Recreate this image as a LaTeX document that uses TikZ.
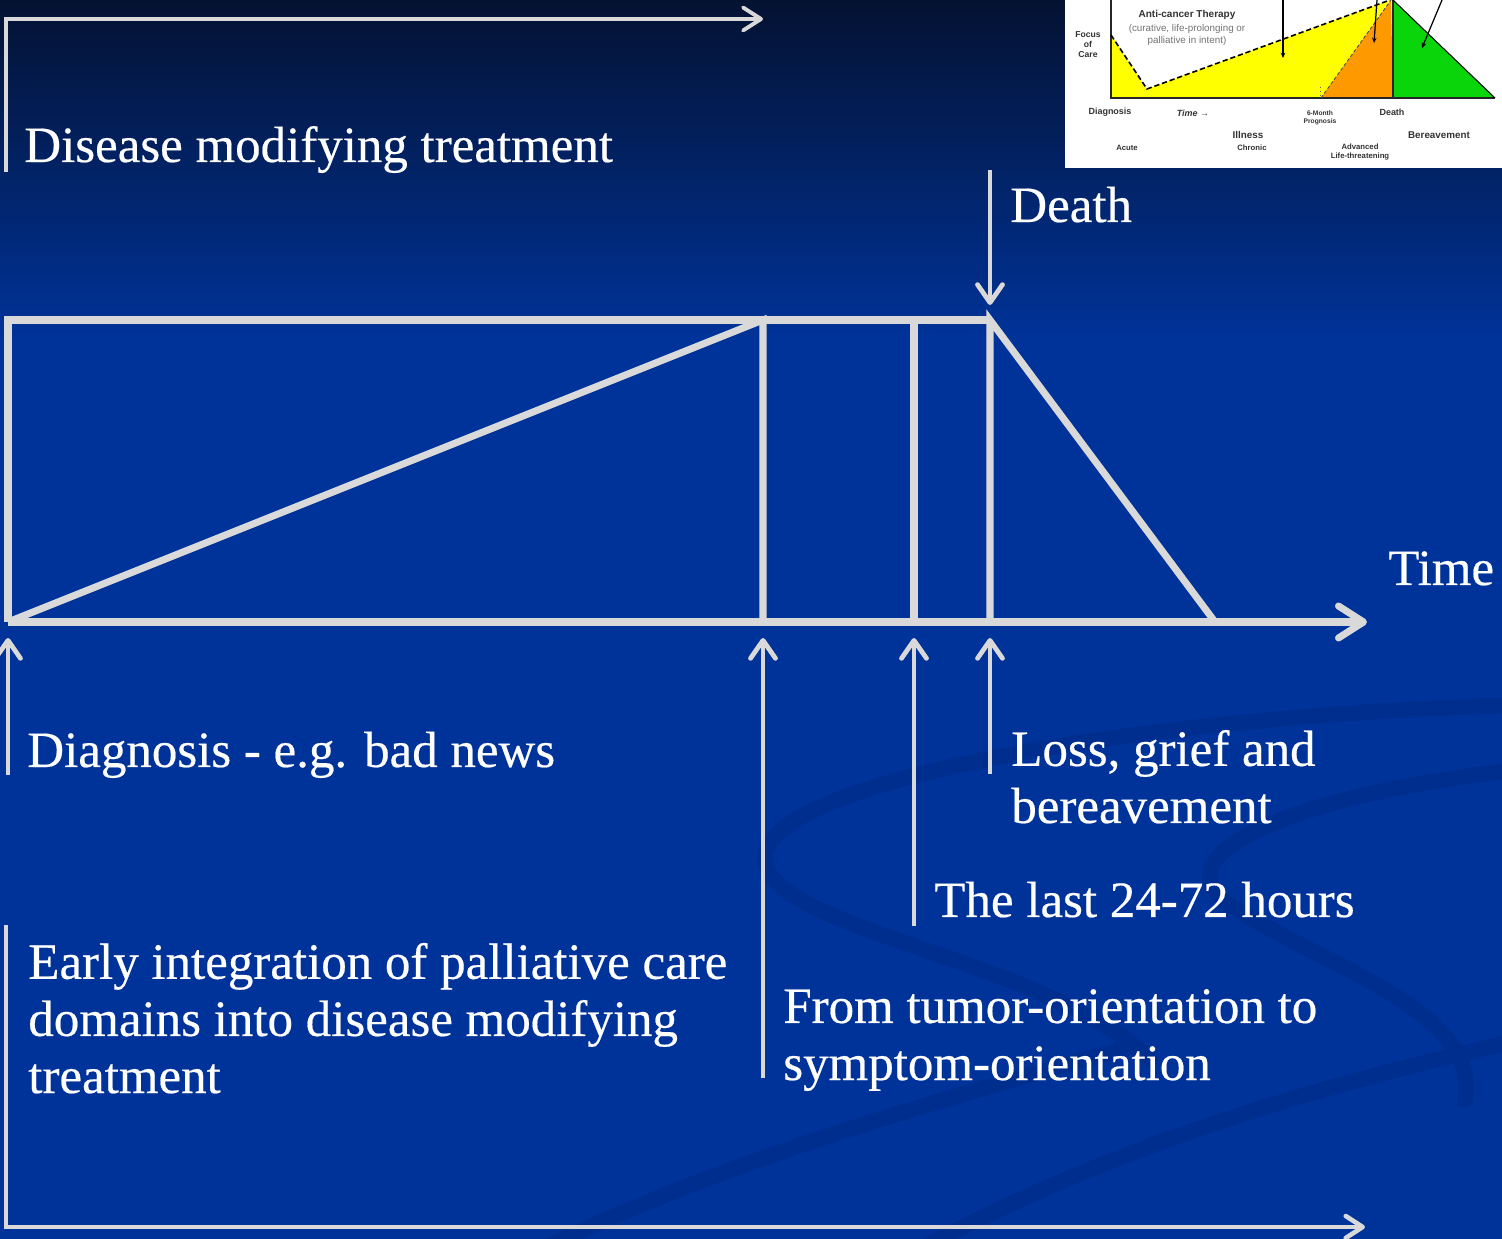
\documentclass[tikz,border=0pt]{standalone}
\usepackage{fontspec}
\setmainfont{Liberation Serif}
\newfontfamily\lblfont[FakeBold=0.4]{Liberation Serif}
\newfontfamily\insetfont{Liberation Sans}
\usetikzlibrary{arrows.meta}
\definecolor{bgtop}{RGB}{4,18,50}
\definecolor{bgblue}{RGB}{0,51,153}
\definecolor{bgswoosh}{RGB}{0,46,143}
\definecolor{linegray}{RGB}{217,217,217}
\definecolor{cyellow}{RGB}{255,255,0}
\definecolor{corange}{RGB}{255,153,0}
\definecolor{cgreen}{RGB}{10,212,10}
\tikzset{
    frame/.style={draw=linegray, line width=4pt, line join=miter},
    marker/.style={draw=linegray, line width=2.7pt, shorten >=0.32cm,
        -{Straight Barb[length=0.36cm,width=0.5cm,round]}},
    lbl/.style={text=white, anchor=base west, inner sep=0pt, align=left,
        font=\lblfont\fontsize{29}{32.5}\selectfont},
    insetlbl/.style={text=black!80, inner sep=0pt, align=center,
        font=\insetfont\bfseries\fontsize{4.4}{5.2}\selectfont},
}
\begin{document}
\begin{tikzpicture}[x=0.02cm, y=-0.02cm]
    \useasboundingbox (0,0) rectangle (1502,1239);
    % background
    \shade[top color=bgtop, bottom color=bgblue] (0,0) rectangle (1502,340);
    \fill[bgblue] (0,339) rectangle (1502,1239);
    \begin{scope}[draw=bgswoosh, line width=9pt, line cap=round]
        \draw (1520,705) .. controls (1150,715) and (760,780) .. (765,860)
            .. controls (770,930) and (1050,960) .. (1150,1060);
        \draw (1520,770) .. controls (1320,790) and (1150,850) .. (1230,905)
            .. controls (1330,970) and (1480,1010) .. (1465,1100);
        \draw (520,1260) .. controls (700,1170) and (900,1110) .. (1120,1050);
        \draw (900,1260) .. controls (1100,1150) and (1300,1090) .. (1520,1040);
    \end{scope}

    % inset: focus of care chart
    \fill[white] (1065,0) rectangle (1502,168);
    \fill[cyellow] (1111,35) -- (1147,89) -- (1390,0) -- (1321,98) -- (1111,98) -- cycle;
    \fill[corange] (1321,98) -- (1391,0) -- (1393,98) -- cycle;
    \fill[cgreen] (1393,0) -- (1495,98) -- (1393,98) -- cycle;
    \draw[black!85, line width=0.8pt] (1111,0) -- (1111,98) -- (1495,98);
    \draw[black!85, line width=0.8pt] (1393,0) -- (1393,98);
    \draw[black, line width=0.6pt] (1393,0) -- (1495,98);
    \draw[black, line width=0.9pt, dash pattern=on 3pt off 1.6pt] (1111,35) -- (1147,89) -- (1390,0);
    \draw[black!70, line width=0.5pt, dash pattern=on 2pt off 1.2pt] (1321,98) -- (1391,0);
    \draw[black!60, line width=0.4pt, dotted] (1320,87) -- (1320,98);
    \draw[black, line width=0.7pt, -{Stealth[length=3pt,width=2.6pt]}] (1283,0) -- (1283,58);
    \draw[black, line width=0.7pt, -{Stealth[length=3pt,width=2.6pt]}] (1377,0) -- (1374,43);
    \draw[black, line width=0.7pt, -{Stealth[length=3pt,width=2.6pt]}] (1442,0) -- (1422,48);
    \node[insetlbl, font=\insetfont\bfseries\fontsize{5.7}{6.5}\selectfont] (acth) at (1187,15) {Anti-cancer Therapy};
    \node[insetlbl, text=black!55, font=\insetfont\fontsize{5.6}{7.2}\selectfont] (acsub) at (1187,35)
        {(curative, life-prolonging or\\palliative in intent)};
    \node[insetlbl, font=\insetfont\bfseries\fontsize{4.9}{5.7}\selectfont] (focus) at (1088,45) {Focus\\of\\Care};
    \node[insetlbl, font=\insetfont\bfseries\fontsize{5.1}{6}\selectfont] (idiag) at (1110,112) {Diagnosis};
    \node[insetlbl, font=\insetfont\bfseries\itshape\fontsize{5.1}{6}\selectfont] (itime) at (1193,113) {Time →};
    \node[insetlbl, font=\insetfont\bfseries\fontsize{3.8}{4.6}\selectfont] (iprog) at (1320,118) {6-Month\\Prognosis};
    \node[insetlbl, font=\insetfont\bfseries\fontsize{5.1}{6}\selectfont] (ideath) at (1392,112) {Death};
    \node[insetlbl, font=\insetfont\bfseries\fontsize{5.6}{6}\selectfont] (iill) at (1248,135) {Illness};
    \node[insetlbl, font=\insetfont\bfseries\fontsize{5.6}{6}\selectfont] (ibereav) at (1439,135) {Bereavement};
    \node[insetlbl] (iacute) at (1127,148) {Acute};
    \node[insetlbl] (ichron) at (1252,148) {Chronic};
    \node[insetlbl] (iadv) at (1360,152) {Advanced\\Life-threatening};

    % time line
    \coordinate (orig) at (8,622);
    \coordinate (topl) at (8,320);
    \coordinate (peak) at (763,320);
    \coordinate (peakb) at (763,622);
    \coordinate (last) at (914,320);
    \coordinate (lastb) at (914,622);
    \coordinate (death) at (990,320);
    \coordinate (deathb) at (990,622);
    \coordinate (grief) at (1215,622);
    \coordinate (tip) at (1367,622);
    \draw[frame] (death) -- (topl) -- (orig);
    \draw[frame] (orig) -- (peak) -- (peakb);
    \draw[frame] (last) -- (lastb);
    \draw[frame] (deathb) -- (death) -- (grief);
    \draw[frame, -{Straight Barb[length=0.5cm,width=0.64cm,round]}] (orig) -- (tip);

    % labels (multi-line ones sit on their last baseline)
    \node[lbl] (dmt) at (24,162) {Disease modifying treatment};
    \node[lbl] (deathlbl) at (1010,222) {Death};
    \node[lbl] (time) at (1388,585) {Time};
    \node[lbl] (diag) at (27,767) {Diagnosis - e.g. bad news};
    \node[lbl] (loss) at (1011,823) {Loss, grief and\\bereavement};
    \node[lbl] (hours) at (934,917) {The last 24-72 hours};
    \node[lbl] (tumor) at (783,1080) {From tumor-orientation to\\symptom-orientation};
    \node[lbl] (early) at (28,1093) {Early integration of palliative care\\domains into disease modifying\\treatment};

    % arrows
    \coordinate (dmt0) at (6,172);
    \coordinate (dmt1) at (6,19);
    \coordinate (dmt2) at (763,19);
    \draw[draw=linegray, line width=2.2pt, -{Straight Barb[length=0.36cm,width=0.46cm,round]}]
        (dmt0) -- (dmt1) -- (dmt2);
    \coordinate (deathtop) at (990,170);
    \draw[marker, shorten >=0.3cm] (deathtop) -- (death);
    \coordinate (diagfoot) at (8,775);
    \coordinate (tumorfoot) at (763,1078);
    \coordinate (hoursfoot) at (914,926);
    \coordinate (lossfoot) at (990,774);
    \draw[marker] (diagfoot) -- (orig);
    \draw[marker] (tumorfoot) -- (peakb);
    \draw[marker] (hoursfoot) -- (lastb);
    \draw[marker] (lossfoot) -- (deathb);
    \coordinate (pc0) at (6,925);
    \coordinate (pc1) at (6,1227);
    \coordinate (pc2) at (1365,1227);
    \draw[draw=linegray, line width=2.6pt, -{Straight Barb[length=0.34cm,width=0.44cm,round]}]
        (pc0) -- (pc1) -- (pc2);
\end{tikzpicture}
\end{document}
